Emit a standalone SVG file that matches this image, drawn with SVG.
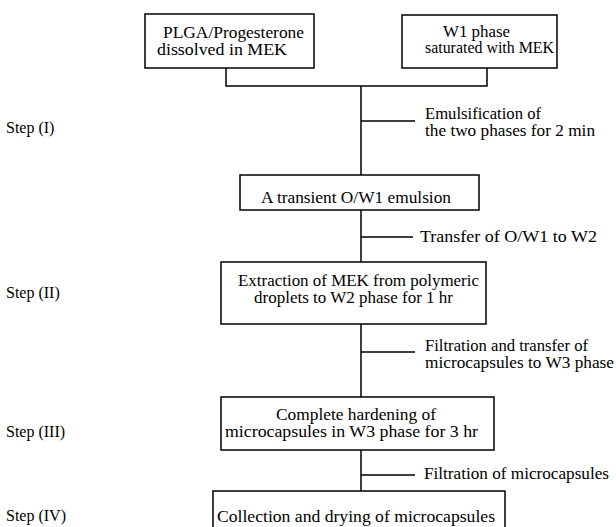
<svg xmlns="http://www.w3.org/2000/svg" width="616" height="527" viewBox="0 0 616 527">
<style>
.box{fill:#fff;stroke:#000;stroke-width:1.5}
.ln{fill:none;stroke:#000;stroke-width:1.5}
text{font-family:"Liberation Serif","Times New Roman",serif;font-size:16px;fill:#000}
</style>
<rect width="616" height="527" fill="#fff"/>
<g id="connectors">
<path class="ln" d="M226 68V86H487V68M361 86V527"/>
<path class="ln" d="M361 121H415M361 237H413M361 352H415M361 475H415"/>
</g>
<g id="n1"><rect class="box" x="145" y="14" width="169" height="54"/>
<text x="163" y="38" textLength="141" lengthAdjust="spacingAndGlyphs">PLGA/Progesterone</text>
<text x="157" y="55" textLength="130" lengthAdjust="spacingAndGlyphs">dissolved in MEK</text></g>
<g id="n2"><rect class="box" x="402" y="15" width="155" height="53"/>
<text x="443" y="37" textLength="67" lengthAdjust="spacingAndGlyphs">W1 phase</text>
<text x="425" y="53" textLength="129" lengthAdjust="spacingAndGlyphs">saturated with MEK</text></g>
<g id="l1"><text x="425" y="119" textLength="116" lengthAdjust="spacingAndGlyphs">Emulsification of</text>
<text x="425" y="136" textLength="170" lengthAdjust="spacingAndGlyphs">the two phases for 2 min</text></g>
<g id="n3"><rect class="box" x="240" y="175" width="239" height="35"/>
<text x="261" y="203" textLength="190" lengthAdjust="spacingAndGlyphs">A transient O/W1 emulsion</text></g>
<g id="l2"><text x="420" y="242" textLength="177" lengthAdjust="spacingAndGlyphs">Transfer of O/W1 to W2</text></g>
<g id="n4"><rect class="box" x="221" y="262" width="265" height="62"/>
<text x="238" y="286" textLength="241" lengthAdjust="spacingAndGlyphs">Extraction of MEK from polymeric</text>
<text x="254" y="303" textLength="199" lengthAdjust="spacingAndGlyphs">droplets to W2 phase for 1 hr</text></g>
<g id="l3"><text x="425" y="351" textLength="163" lengthAdjust="spacingAndGlyphs">Filtration and transfer of</text>
<text x="425" y="368" textLength="189" lengthAdjust="spacingAndGlyphs">microcapsules to W3 phase</text></g>
<g id="n5"><rect class="box" x="221" y="397" width="273" height="53"/>
<text x="276" y="420" textLength="160" lengthAdjust="spacingAndGlyphs">Complete hardening of</text>
<text x="225" y="437" textLength="253" lengthAdjust="spacingAndGlyphs">microcapsules in W3 phase for 3 hr</text></g>
<g id="l4"><text x="424" y="479" textLength="185" lengthAdjust="spacingAndGlyphs">Filtration of microcapsules</text></g>
<g id="n6"><rect class="box" x="213" y="491" width="292" height="50"/>
<text x="217" y="522" textLength="278" lengthAdjust="spacingAndGlyphs">Collection and drying of microcapsules</text></g>
<g id="steps">
<text x="6" y="133">Step (I)</text>
<text x="6" y="298">Step (II)</text>
<text x="6" y="437">Step (III)</text>
<text x="6" y="521">Step (IV)</text>
</g>
</svg>
